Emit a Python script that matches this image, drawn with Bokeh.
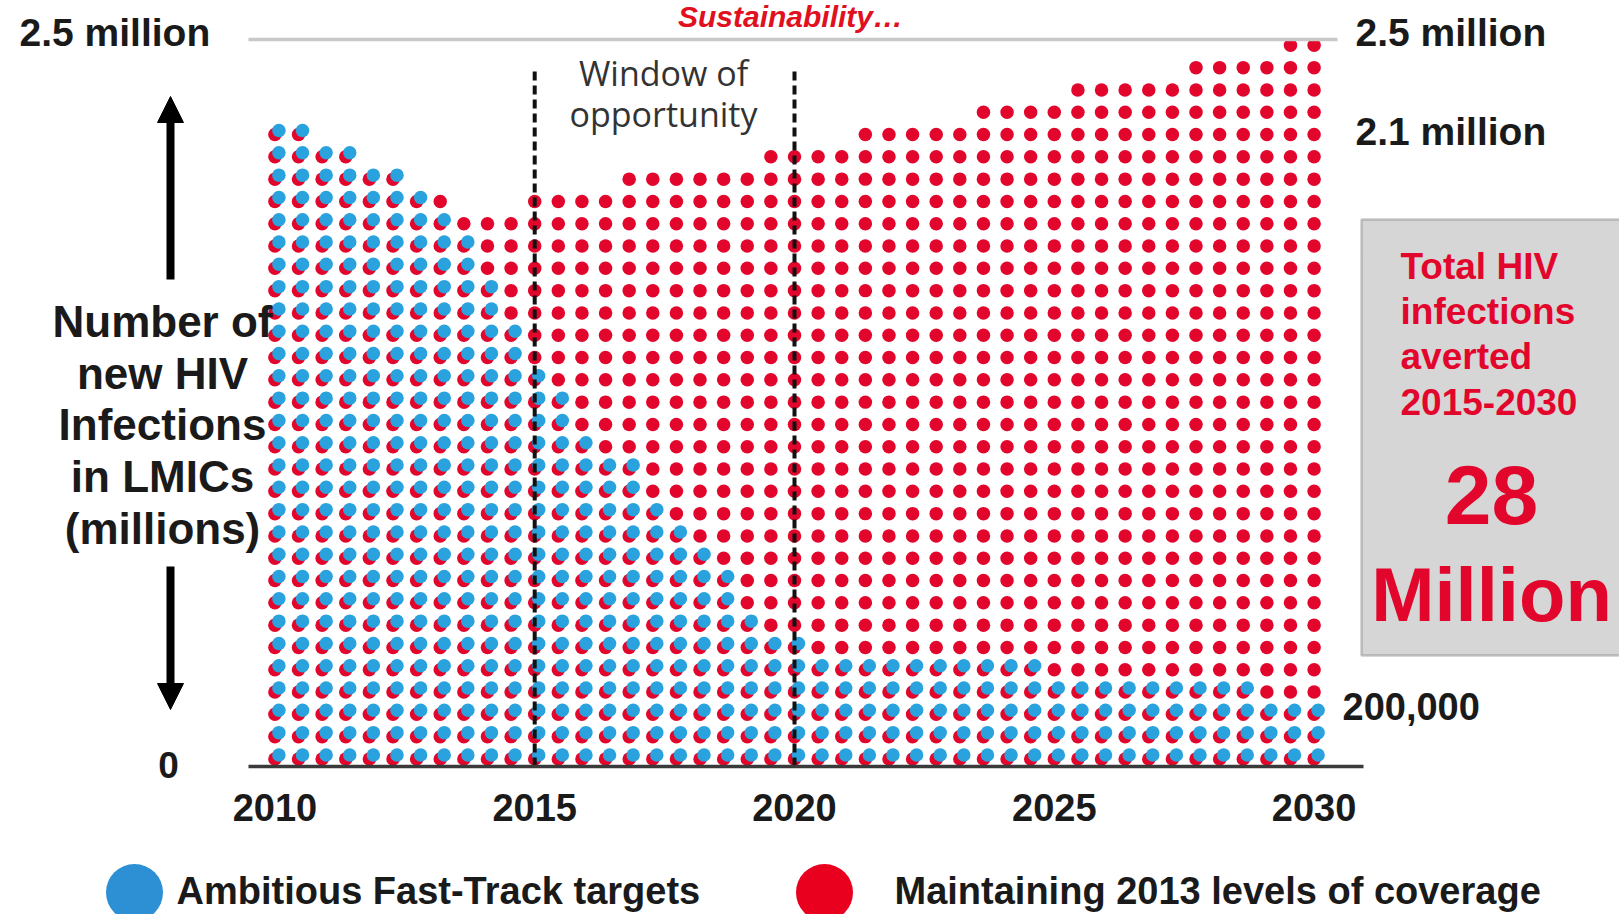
import numpy as np
from bokeh.plotting import figure
from bokeh.models import (Range1d, LinearAxis, FixedTicker, Label, BoxAnnotation,
                          Arrow, NormalHead)
from bokeh.embed import file_html
from bokeh.resources import INLINE

# ---- data (new HIV infections in LMICs, millions) ----
years = list(range(2010, 2031))
fast_track = [2.20, 2.15, 2.08, 1.97, 1.70, 1.40, 1.14, 1.00, 0.78, 0.57, 0.41,
              0.37, 0.36, 0.35, 0.34, 0.33, 0.32, 0.31, 0.28, 0.25, 0.20]
constant_coverage = [2.20, 2.15, 2.08, 1.97, 1.89, 1.96, 1.99, 2.03, 2.06, 2.09, 2.12,
                     2.16, 2.20, 2.24, 2.28, 2.32, 2.35, 2.39, 2.42, 2.46, 2.50]
year_ticks = [2010, 2015, 2020, 2025, 2030]
window_years = [2015, 2020]
scale_max = 2.5
series_names = ["Ambitious Fast-Track targets", "Maintaining 2013 levels of coverage"]
right_labels = ["2.5 million", "2.1 million", "200,000"]
box_lines = ["Total HIV", "infections", "averted", "2015-2030"]
averted_total = "28"

# ---- layout: pixel <-> data mapping for the full canvas frame ----
W, H = 1619, 914
X0_PX, PX_PER_YEAR = 274.4, 51.96     # canvas x of 2010, pixels per year
Y0_PX, PX_PER_M = 766.0, 290.8        # canvas y (from top) of 0, pixels per million


def xd(px):
    return 2010 + (px - X0_PX) / PX_PER_YEAR


def yd(py):
    return (Y0_PX - py) / PX_PER_M


RED = "#e3062c"
BLUE = "#2aa2dd"
INK = "#1a1a1a"
FONT = "Liberation Sans"

p = figure(width=W, height=H, x_range=Range1d(xd(0), xd(W)), y_range=Range1d(yd(H), yd(0)),
           x_axis_type=None, y_axis_type=None, toolbar_location=None,
           output_backend="svg", min_border=0)
p.outline_line_color = None
p.background_fill_color = "white"
p.border_fill_color = "white"

# ---- dotted areas: a regular dot lattice clipped to each series ----
col_x = np.linspace(2010, 2030, 45)
row_step = 22.3 / PX_PER_M
row_y = 0.026 + row_step * np.arange(40)
GX, GY = np.meshgrid(col_x, row_y)
red_in = GY <= np.interp(GX, years, constant_coverage)
blue_in = GY <= np.interp(GX, years, fast_track)

p.scatter(GX[red_in], GY[red_in], size=13.5, fill_color=RED, line_color=None)
p.scatter(GX[blue_in] + 4 / PX_PER_YEAR, GY[blue_in] + 4 / PX_PER_M, size=13.5,
          fill_color=BLUE, line_color=None)

# window of opportunity markers
p.segment(x0=window_years, y0=[0, 0], x1=window_years, y1=[yd(68)] * 2,
          line_color="#111111", line_width=4, line_dash="9 5")

# top reference line at 2.5 million
p.segment(x0=[xd(248)], y0=[scale_max], x1=[xd(1337)], y1=[scale_max],
          line_color="#c8c8c8", line_width=3.5)

# x axis drawn on the zero line
ax = LinearAxis(fixed_location=0, ticker=FixedTicker(ticks=year_ticks),
                bounds=(xd(248), xd(1363)))
ax.axis_line_color = "#3a3a3a"
ax.axis_line_width = 3.5
ax.major_tick_line_color = None
ax.minor_tick_line_color = None
ax.major_label_standoff = 21
ax.major_label_text_font = FONT
ax.major_label_text_font_style = "bold"
ax.major_label_text_font_size = "38px"
ax.major_label_text_color = INK
p.add_layout(ax, "below")


def label(text, px, py, size, color=INK, align="left", style="bold", font=FONT,
          baseline="middle"):
    p.add_layout(Label(x=xd(px), y=yd(py), text=text, text_font=font,
                       text_font_size=f"{size}px", text_font_style=style,
                       text_color=color, text_align=align, text_baseline=baseline))


# title
label("Sustainability…", 790, 16, 30, color="#e0101e", align="center",
      style="bold italic")

# left scale labels and axis title
label("2.5 million", 19, 32, 39)
label("0", 168, 764, 37, align="center")
for i, line in enumerate(["Number of", "new HIV", "Infections", "in LMICs", "(millions)"]):
    label(line, 162, 321 + i * 51.7, 44, align="center")

head_up = NormalHead(size=26, fill_color="black", line_color="black")
head_dn = NormalHead(size=26, fill_color="black", line_color="black")
p.add_layout(Arrow(end=head_up, x_start=xd(170), y_start=yd(279), x_end=xd(170),
                   y_end=yd(96), line_width=8, line_color="black"))
p.add_layout(Arrow(end=head_dn, x_start=xd(170), y_start=yd(566), x_end=xd(170),
                   y_end=yd(709), line_width=8, line_color="black"))

# window annotation
label("Window of", 663, 72, 34, color="#333333", align="center", style="normal",
      font="Open Sans")
label("opportunity", 663, 113, 34, color="#333333", align="center", style="normal",
      font="Open Sans")

# right-hand value labels
label(right_labels[0], 1355, 32, 39)
label(right_labels[1], 1355, 131, 39)
label(right_labels[2], 1342, 706, 38)

# infections-averted call-out box
p.add_layout(BoxAnnotation(left=xd(1361), right=xd(1650), top=yd(219), bottom=yd(655),
                           fill_color="#d6d6d6", fill_alpha=1.0,
                           line_color="#555555", line_width=2.5))
for i, line in enumerate(box_lines):
    label(line, 1400, 266 + i * 45.2, 37, color=RED)
label(averted_total, 1491, 494, 84, color=RED, align="center")
label("Million", 1491, 594, 76, color=RED, align="center")

# legend
p.scatter(x=[xd(134), xd(824)], y=[yd(892)] * 2, size=57,
          fill_color=["#2d90d5", "#e8001e"], line_color=None)
label(series_names[0], 176, 890, 38)
label(series_names[1], 894, 890, 38)

open("out.html", "w").write(file_html(p, INLINE))
